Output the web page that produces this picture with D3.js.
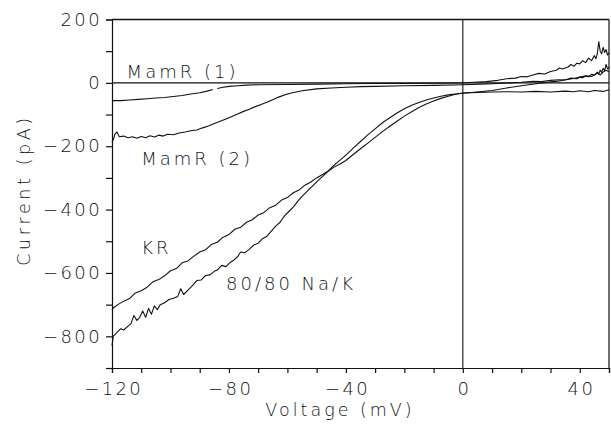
<!DOCTYPE html>
<html>
<head>
<meta charset="utf-8">
<script src="https://cdn.jsdelivr.net/npm/d3@7"></script>
<style>
  body { margin: 0; background: #fff; }
  svg text { font-family: "DejaVu Sans", sans-serif; font-weight: 200; fill: #111; }
</style>
</head>
<body>
<svg id="chart"></svg>
<script>
// current-voltage traces, [mV, pA]
var mamR1 = [[-120,-60],[-119.5,-56],[-117,-56],[-114,-54],[-111,-52],[-108,-50],[-105,-48],[-102,-46],[-99,-43],
  [-96,-40],[-93,-35],[-90,-31],[-87.5,-26],[-85.5,-21],null,[-84,-18],[-82,-14],[-80,-11],[-77,-9],[-74,-7],[-70,-6],
  [-60,-5],[-50,-4],[-40,-3],[-30,-2],[-20,-2],[-10,-1],[0,0],[4,2],[8,4],[12,8],[15,13],[18,15],[20,20],[22,19],[24,25],
  [26,30],[28,28],[30,36],[32,40],[33,47],[34,44],[36,50],[37,58],[38,52],[39,62],[40,60],[41,70],[42,64],[43,78],
  [44,70],[45,86],[45.5,76],[46,92],[46.5,130],[47,100],[47.5,92],[48,112],[48.5,96],[49,105],[49.5,88],[50,95]]

var mamR2 = [[-120,-188],[-119.5,-178],[-119,-162],[-118.3,-155],[-117.5,-170],[-116,-168],[-114.5,-173],[-113,-170],
  [-111.5,-175],[-110,-169],[-108.5,-173],[-107,-167],[-105.5,-171],[-104,-165],[-102.5,-168],[-101,-162],[-99,-164],
  [-97,-158],[-95,-155],[-93,-151],[-91,-149],[-89,-142],[-87,-136],[-85,-128],[-83,-121],[-81,-114],[-79,-106],
  [-77,-98],[-75,-90],[-73,-83],[-71,-75],[-69,-68],[-67,-61],[-65,-53],[-63,-45],[-61,-38],[-59,-33],[-57,-29],
  [-55,-25],[-50,-19],[-45,-16],[-40,-14],[-35,-12],[-30,-11],[-20,-9],[-10,-8],[0,-6],[6,-4],[12,-2],[16,0],[20,2],
  [24,5],[27,4],[30,8],[33,10],[35,9],[37,15],[39,13],[40,18],[41,16],[42,22],[43,19],[44,27],[45,24],[46,34],
  [46.5,28],[47,40],[47.5,33],[48,46],[48.5,38],[49,58],[49.5,44],[50,50]]

var kr = [[-120,-718],[-119.5,-710],[-118,-700],[-116,-689],[-114,-681],[-112,-663],[-110,-656],[-108,-645],
  [-106,-628],[-104,-621],[-102,-609],[-100,-593],[-98,-586],[-96,-568],[-94,-562],[-92,-547],[-90,-534],[-88,-527],
  [-86,-510],[-84,-503],[-82,-487],[-80,-479],[-78,-462],[-76,-456],[-74,-440],[-72,-432],[-70,-417],[-68,-409],
  [-66,-394],[-64,-386],[-62,-370],[-60,-362],[-58,-347],[-56,-338],[-54,-323],[-52,-313],[-50,-300],[-48,-289],
  [-46,-278],[-44,-266],[-42,-256],[-40,-245],[-37.5,-226],[-35,-208],[-32.5,-190],[-30,-172],[-27.5,-154],
  [-25,-137],[-22.5,-121],[-20,-105],[-17.5,-91],[-15,-78],[-12.5,-67],[-10,-57],[-7.5,-49],[-5,-42],[-2.5,-36],
  [0,-32],[5,-30],[10,-29],[15,-28],[20,-29],[25,-27],[30,-29],[35,-26],[38,-28],[40,-25],[43,-28],[45,-24],
  [48,-27],[50,-22]]

var naK = [[-120,-830],[-119.6,-800],[-118.5,-790],[-117,-776],[-116,-780],[-114.5,-768],[-113.5,-760],[-112.5,-734],
  [-111.5,-750],[-110.5,-740],[-109.5,-720],[-108.5,-740],[-107.5,-712],[-106.5,-730],[-105.5,-704],[-104.5,-716],
  [-103.5,-700],[-102,-694],[-100.5,-684],[-99,-680],[-97.5,-674],[-96.5,-650],[-95.5,-668],[-94,-654],[-92.5,-640],
  [-91,-624],[-89.5,-622],[-88,-608],[-86.5,-606],[-85,-595],[-84,-591],[-82.5,-576],[-81,-580],[-79.5,-566],
  [-78.5,-561],[-77,-548],[-76,-534],[-74.5,-536],[-73,-525],[-71.5,-512],[-70,-506],[-68.5,-492],[-67,-484],
  [-65.5,-468],[-64,-452],[-62.5,-440],[-61,-420],[-59.5,-406],[-58,-392],[-56.5,-374],[-55,-358],[-53,-340],
  [-51,-322],[-49,-304],[-47,-287],[-45,-268],[-42.5,-248],[-40,-228],[-37.5,-206],[-35,-185],[-32.5,-164],
  [-30,-145],[-27.5,-126],[-25,-110],[-22.5,-95],[-20,-82],[-17.5,-71],[-15,-62],[-12.5,-54],[-10,-48],[-7.5,-42],
  [-5,-38],[-2.5,-35],[0,-33],[5,-29],[10,-24],[15,-16],[20,-9],[25,-3],[30,3],[33,6],[35,10],[38,14],[40,18],
  [42,22],[44,20],[46,30],[47,25],[48,34],[49,40],[50,35]]

var series = [mamR1, mamR2, kr, naK]

var labels = [
  {text: 'MamR (1)', v: -115, i: 15},
  {text: 'MamR (2)', v: -110, i: -259},
  {text: 'KR', v: -110, i: -540},
  {text: '80/80 Na/K', v: -81, i: -655}
]

var xTicks = d3.range(-120, 51, 10)
var xLabels = [-120, -80, -40, 0, 40]
var yTicks = d3.range(-900, 201, 100)
var yLabels = [-800, -600, -400, -200, 0, 200]

var margin = {top: 19.5, right: 2, bottom: 59, left: 112},
  width = 611 - margin.left - margin.right,
  height = 427 - margin.top - margin.bottom

var svg = d3.select('#chart')
  .attr('width', 611)
  .attr('height', 427)
  .append('g')
  .attr('transform', 'translate(' + margin.left + ',' + margin.top + ')')

var x = d3.scaleLinear().domain([-120, 50]).range([0, width])
var y = d3.scaleLinear().domain([-900, 200]).range([height, 0])

var fmt = d3.format('d')

// axes
var xAxis = svg.append('g')
  .attr('transform', 'translate(0,' + height + ')')
  .call(d3.axisBottom(x).tickValues(xTicks).tickSize(5).tickPadding(9)
    .tickFormat(d => xLabels.includes(d) ? fmt(d) : ''))

var yAxis = svg.append('g')
  .call(d3.axisLeft(y).tickValues(yTicks).tickSize(6).tickPadding(4)
    .tickFormat(d => yLabels.includes(d) ? fmt(d) : ''))

svg.selectAll('.domain, .tick line').attr('stroke', '#111').attr('stroke-width', 1.2)
svg.selectAll('.tick text').attr('font-size', 18).style('letter-spacing', '2.4px')
  .attr('font-family', null)
xAxis.selectAll('.tick text').attr('dx', '1.2px')

// frame: top and right
svg.append('line').attr('x1', 0).attr('x2', width).attr('y1', 0).attr('y2', 0)
  .attr('stroke', '#111').attr('stroke-width', 1.3)
svg.append('line').attr('x1', width).attr('x2', width).attr('y1', 0).attr('y2', height)
  .attr('stroke', '#111').attr('stroke-width', 1.2)

// zero lines
svg.append('line').attr('x1', 0).attr('x2', width).attr('y1', y(0)).attr('y2', y(0))
  .attr('stroke', '#111').attr('stroke-width', 1.2)
svg.append('line').attr('x1', x(0)).attr('x2', x(0)).attr('y1', 0).attr('y2', height)
  .attr('stroke', '#111').attr('stroke-width', 1.1)

// traces
var line = d3.line()
  .defined(d => d != null)
  .x(d => x(d[0]))
  .y(d => y(d[1]))

svg.selectAll('path.trace')
  .data(series)
  .enter()
  .append('path')
    .attr('class', 'trace')
    .attr('d', line)
    .attr('fill', 'none')
    .attr('stroke', '#111')
    .attr('stroke-width', 1.1)
    .attr('stroke-linejoin', 'round')

// trace labels
svg.selectAll('text.lab')
  .data(labels)
  .enter()
  .append('text')
    .attr('class', 'lab')
    .attr('x', d => x(d.v))
    .attr('y', d => y(d.i))
    .attr('font-size', 18)
    .style('letter-spacing', '3px')
    .text(d => d.text)

// axis titles
svg.append('text')
  .attr('x', 228)
  .attr('y', height + 48)
  .attr('text-anchor', 'middle')
  .attr('font-size', 17.5)
  .style('letter-spacing', '3px')
  .text('Voltage (mV)')

svg.append('text')
  .attr('transform', 'translate(-82,' + (190 - margin.top) + ') rotate(-90)')
  .attr('text-anchor', 'middle')
  .attr('font-size', 17.5)
  .style('letter-spacing', '3.6px')
  .text('Current (pA)')
</script>
</body>
</html>
